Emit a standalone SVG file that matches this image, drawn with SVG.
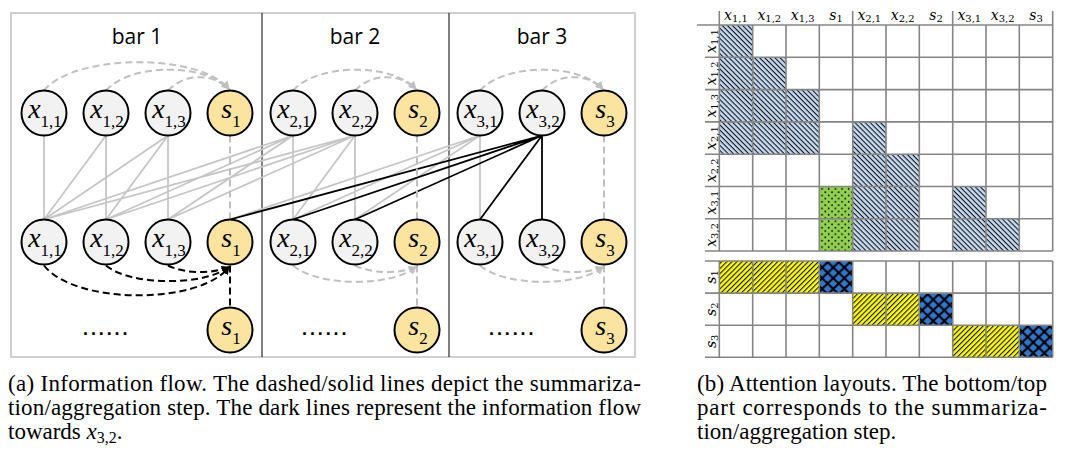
<svg xmlns="http://www.w3.org/2000/svg" width="1068" height="462" viewBox="0 0 1068 462">
<style>
.frame{fill:none;stroke:#c0c0c0;stroke-width:1.5}
.div{stroke:#000;stroke-width:1}
.bar{font-family:"Open Sans","Liberation Sans",sans-serif;font-size:21px;fill:#000;text-anchor:middle}
.nx{fill:#f2f2f2;stroke:#000;stroke-width:2}
.ns{fill:#fbe4a0;stroke:#000;stroke-width:2}
.lbl{font-size:28px;text-anchor:middle;fill:#000}
.v{font-style:italic}
.lbl .sub{font-size:17px}
.g{stroke:#c6c6c6;stroke-width:1.8;fill:none}
.k{stroke:#000;stroke-width:1.8;fill:none}
.gd{stroke:#c0c0c0;stroke-width:2;fill:none;stroke-dasharray:7 4}
.kd{stroke:#000;stroke-width:2;fill:none;stroke-dasharray:7 4}
.dots{font-family:"Liberation Sans",sans-serif;font-weight:bold;font-size:18px;letter-spacing:2.9px;fill:#000}
.grid{stroke:#858585;stroke-width:1.6;fill:none}
.ml{font-family:"DejaVu Serif",serif;font-size:14px;fill:#000;text-anchor:middle}
.ml .sub{font-size:10px}
.cap{font-size:23px;fill:#000}
</style>
<defs>
<marker id="ag" viewBox="0 0 10 10" refX="9" refY="5" markerWidth="4" markerHeight="4" orient="auto"><path d="M0,0 L10,5 L0,10 z" fill="#c0c0c0"/></marker>
<marker id="ak" viewBox="0 0 10 10" refX="9" refY="5" markerWidth="4" markerHeight="4" orient="auto"><path d="M0,0 L10,5 L0,10 z" fill="#000"/></marker>
<pattern id="pBlue" patternUnits="userSpaceOnUse" width="3.6" height="3.6" patternTransform="rotate(45)">
<rect width="3.6" height="3.6" fill="#c5d9f1"/>
<rect y="0" width="3.6" height="1.05" fill="#111"/>
</pattern>
<pattern id="pYel" patternUnits="userSpaceOnUse" width="3.6" height="3.6" patternTransform="rotate(-45)">
<rect width="3.6" height="3.6" fill="#ffff00"/>
<rect y="0" width="3.6" height="1.1" fill="#111"/>
</pattern>
<pattern id="pGreen" patternUnits="userSpaceOnUse" width="6.67" height="6.46">
<rect width="6.67" height="6.46" fill="#92d050"/>
<circle cx="1.6" cy="1.6" r="0.9" fill="#000"/>
<circle cx="4.93" cy="4.83" r="0.9" fill="#000"/>
</pattern>
<pattern id="pCross" patternUnits="userSpaceOnUse" width="11.11" height="10.7">
<rect width="11.11" height="10.7" fill="#2f76cc"/>
<path d="M0,0 L11.11,10.7 M11.11,0 L0,10.7" stroke="#000" stroke-width="2"/>
</pattern>
</defs>

<g id="frame">
<rect class="frame" x="11" y="13" width="624" height="344"/>
<line class="div" x1="262" y1="13" x2="262" y2="357"/>
<line class="div" x1="449" y1="13" x2="449" y2="357"/>
<text class="bar" x="137" y="44">bar 1</text>
<text class="bar" x="355" y="44">bar 2</text>
<text class="bar" x="542" y="44">bar 3</text>
</g>

<g id="connectors">
<path class="g" d="M44,135.5 L44,219.5 M106,135.5 L44,219.5 M106,135.5 L106,219.5 M168,135.5 L44,219.5 M168,135.5 L106,219.5 M168,135.5 L168,219.5 M293,135.5 L44,219.5 M293,135.5 L106,219.5 M293,135.5 L168,219.5 M293,135.5 L293,219.5 M355,135.5 L44,219.5 M355,135.5 L106,219.5 M355,135.5 L168,219.5 M355,135.5 L293,219.5 M355,135.5 L355,219.5 M480,135.5 L230,219.5 M480,135.5 L293,219.5 M480,135.5 L355,219.5 M480,135.5 L480,219.5"/>
<path class="k" d="M542,135.5 L230,219.5 M542,135.5 L293,219.5 M542,135.5 L355,219.5 M542,135.5 L480,219.5 M542,135.5 L542,219.5"/>
<path class="gd" d="M230,135.5 L230,219.5 M417,135.5 L417,219.5 M604,135.5 L604,219.5 M417,265.5 L417,307.5 M604,265.5 L604,307.5"/>
<path class="kd" d="M230,265.5 L230,307.5"/>
<path class="gd" marker-end="url(#ag)" d="M44,90.5 C75,53 200,53 229,89"/>
<path class="gd" marker-end="url(#ag)" d="M106,90.5 C130,63 205,63 229,89"/>
<path class="gd" marker-end="url(#ag)" d="M168,90.5 C185,73 212,73 229,89"/>
<path class="gd" marker-end="url(#ag)" d="M293,90.5 C318,63 392,63 416,89"/>
<path class="gd" marker-end="url(#ag)" d="M355,90.5 C372,73 399,73 416,89"/>
<path class="gd" marker-end="url(#ag)" d="M480,90.5 C505,63 579,63 603,89"/>
<path class="gd" marker-end="url(#ag)" d="M542,90.5 C559,73 586,73 603,89"/>
<path class="kd" marker-end="url(#ak)" d="M44,265.5 C75,305 200,305 229,267"/>
<path class="kd" marker-end="url(#ak)" d="M106,265.5 C130,286 205,286 229,267"/>
<path class="kd" marker-end="url(#ak)" d="M168,265.5 C185,274 212,274 229,267"/>
<path class="gd" marker-end="url(#ag)" d="M293,265.5 C318,287 392,287 416,267"/>
<path class="gd" marker-end="url(#ag)" d="M355,265.5 C372,274 399,274 416,267"/>
<path class="gd" marker-end="url(#ag)" d="M480,265.5 C505,287 579,287 603,267"/>
<path class="gd" marker-end="url(#ag)" d="M542,265.5 C559,274 586,274 603,267"/>
</g>

<g font-family="'Liberation Serif', 'Times New Roman', Times, serif">
<g id="t-x11"><circle class="nx" cx="44" cy="113" r="22.5"/><text class="lbl" x="45" y="118"><tspan class="v">x</tspan><tspan class="sub" dy="9">1,1</tspan></text></g>
<g id="t-x12"><circle class="nx" cx="106" cy="113" r="22.5"/><text class="lbl" x="107" y="118"><tspan class="v">x</tspan><tspan class="sub" dy="9">1,2</tspan></text></g>
<g id="t-x13"><circle class="nx" cx="168" cy="113" r="22.5"/><text class="lbl" x="169" y="118"><tspan class="v">x</tspan><tspan class="sub" dy="9">1,3</tspan></text></g>
<g id="t-s1"><circle class="ns" cx="230" cy="113" r="22.5"/><text class="lbl" x="231" y="118"><tspan class="v">s</tspan><tspan class="sub" dy="9">1</tspan></text></g>
<g id="t-x21"><circle class="nx" cx="293" cy="113" r="22.5"/><text class="lbl" x="294" y="118"><tspan class="v">x</tspan><tspan class="sub" dy="9">2,1</tspan></text></g>
<g id="t-x22"><circle class="nx" cx="355" cy="113" r="22.5"/><text class="lbl" x="356" y="118"><tspan class="v">x</tspan><tspan class="sub" dy="9">2,2</tspan></text></g>
<g id="t-s2"><circle class="ns" cx="417" cy="113" r="22.5"/><text class="lbl" x="418" y="118"><tspan class="v">s</tspan><tspan class="sub" dy="9">2</tspan></text></g>
<g id="t-x31"><circle class="nx" cx="480" cy="113" r="22.5"/><text class="lbl" x="481" y="118"><tspan class="v">x</tspan><tspan class="sub" dy="9">3,1</tspan></text></g>
<g id="t-x32"><circle class="nx" cx="542" cy="113" r="22.5"/><text class="lbl" x="543" y="118"><tspan class="v">x</tspan><tspan class="sub" dy="9">3,2</tspan></text></g>
<g id="t-s3"><circle class="ns" cx="604" cy="113" r="22.5"/><text class="lbl" x="605" y="118"><tspan class="v">s</tspan><tspan class="sub" dy="9">3</tspan></text></g>

<g id="m-x11"><circle class="nx" cx="44" cy="242" r="22.5"/><text class="lbl" x="45" y="247"><tspan class="v">x</tspan><tspan class="sub" dy="9">1,1</tspan></text></g>
<g id="m-x12"><circle class="nx" cx="106" cy="242" r="22.5"/><text class="lbl" x="107" y="247"><tspan class="v">x</tspan><tspan class="sub" dy="9">1,2</tspan></text></g>
<g id="m-x13"><circle class="nx" cx="168" cy="242" r="22.5"/><text class="lbl" x="169" y="247"><tspan class="v">x</tspan><tspan class="sub" dy="9">1,3</tspan></text></g>
<g id="m-s1"><circle class="ns" cx="230" cy="242" r="22.5"/><text class="lbl" x="231" y="247"><tspan class="v">s</tspan><tspan class="sub" dy="9">1</tspan></text></g>
<g id="m-x21"><circle class="nx" cx="293" cy="242" r="22.5"/><text class="lbl" x="294" y="247"><tspan class="v">x</tspan><tspan class="sub" dy="9">2,1</tspan></text></g>
<g id="m-x22"><circle class="nx" cx="355" cy="242" r="22.5"/><text class="lbl" x="356" y="247"><tspan class="v">x</tspan><tspan class="sub" dy="9">2,2</tspan></text></g>
<g id="m-s2"><circle class="ns" cx="417" cy="242" r="22.5"/><text class="lbl" x="418" y="247"><tspan class="v">s</tspan><tspan class="sub" dy="9">2</tspan></text></g>
<g id="m-x31"><circle class="nx" cx="480" cy="242" r="22.5"/><text class="lbl" x="481" y="247"><tspan class="v">x</tspan><tspan class="sub" dy="9">3,1</tspan></text></g>
<g id="m-x32"><circle class="nx" cx="542" cy="242" r="22.5"/><text class="lbl" x="543" y="247"><tspan class="v">x</tspan><tspan class="sub" dy="9">3,2</tspan></text></g>
<g id="m-s3"><circle class="ns" cx="604" cy="242" r="22.5"/><text class="lbl" x="605" y="247"><tspan class="v">s</tspan><tspan class="sub" dy="9">3</tspan></text></g>

<g id="b-dots1"><text class="dots" x="83" y="335">......</text></g>
<g id="b-s1"><circle class="ns" cx="230" cy="330" r="22.5"/><text class="lbl" x="231" y="335"><tspan class="v">s</tspan><tspan class="sub" dy="9">1</tspan></text></g>
<g id="b-dots2"><text class="dots" x="302" y="335">......</text></g>
<g id="b-s2"><circle class="ns" cx="417" cy="330" r="22.5"/><text class="lbl" x="418" y="335"><tspan class="v">s</tspan><tspan class="sub" dy="9">2</tspan></text></g>
<g id="b-dots3"><text class="dots" x="489" y="335">......</text></g>
<g id="b-s3"><circle class="ns" cx="604" cy="330" r="22.5"/><text class="lbl" x="605" y="335"><tspan class="v">s</tspan><tspan class="sub" dy="9">3</tspan></text></g>
</g>

<g id="matrix-cells">
<rect fill="url(#pBlue)" x="719.3" y="25" width="33.4" height="129.2"/>
<rect fill="url(#pBlue)" x="752.7" y="57.3" width="33.3" height="96.9"/>
<rect fill="url(#pBlue)" x="786" y="89.6" width="33.3" height="64.6"/>
<rect fill="url(#pBlue)" x="852.7" y="121.9" width="33.3" height="129.1"/>
<rect fill="url(#pBlue)" x="886" y="154.2" width="33.3" height="96.8"/>
<rect fill="url(#pBlue)" x="952.7" y="186.5" width="33.3" height="64.5"/>
<rect fill="url(#pBlue)" x="986" y="218.7" width="33.3" height="32.3"/>
<rect fill="url(#pGreen)" x="819.3" y="186.5" width="33.4" height="64.5"/>
<rect fill="url(#pYel)" x="719.3" y="261" width="100" height="32.1"/>
<rect fill="url(#pCross)" x="819.3" y="261" width="33.4" height="32.1"/>
<rect fill="url(#pYel)" x="852.7" y="293.1" width="66.6" height="32.1"/>
<rect fill="url(#pCross)" x="919.3" y="293.1" width="33.4" height="32.1"/>
<rect fill="url(#pYel)" x="952.7" y="325.2" width="66.6" height="32.1"/>
<rect fill="url(#pCross)" x="1019.3" y="325.2" width="33.4" height="32.1"/>
</g>
<g id="matrix-grid">
<path class="grid" d="M697,25 H1052.7 M705,57.3 H1052.7 M705,89.6 H1052.7 M705,121.9 H1052.7 M705,154.2 H1052.7 M705,186.5 H1052.7 M705,218.7 H1052.7 M705,251 H1052.7"/>
<path class="grid" d="M719.3,11 V251 M752.7,25 V251 M786,25 V251 M819.3,25 V251 M852.7,11 V251 M886,25 V251 M919.3,25 V251 M952.7,11 V251 M986,25 V251 M1019.3,25 V251 M1052.7,11 V251"/>
<path class="grid" d="M705,261 H1052.7 M705,293.1 H1052.7 M705,325.2 H1052.7 M705,357.3 H1052.7"/>
<path class="grid" d="M719.3,261 V357.3 M752.7,261 V357.3 M786,261 V357.3 M819.3,261 V357.3 M852.7,261 V357.3 M886,261 V357.3 M919.3,261 V357.3 M952.7,261 V357.3 M986,261 V357.3 M1019.3,261 V357.3 M1052.7,261 V357.3"/>
</g>
<g id="matrix-col-labels">
<text class="ml" x="736" y="20"><tspan class="v">x</tspan><tspan class="sub" dy="2">1,1</tspan></text>
<text class="ml" x="769.3" y="20"><tspan class="v">x</tspan><tspan class="sub" dy="2">1,2</tspan></text>
<text class="ml" x="802.7" y="20"><tspan class="v">x</tspan><tspan class="sub" dy="2">1,3</tspan></text>
<text class="ml" x="836" y="20"><tspan class="v">s</tspan><tspan class="sub" dy="2">1</tspan></text>
<text class="ml" x="869.3" y="20"><tspan class="v">x</tspan><tspan class="sub" dy="2">2,1</tspan></text>
<text class="ml" x="902.7" y="20"><tspan class="v">x</tspan><tspan class="sub" dy="2">2,2</tspan></text>
<text class="ml" x="936" y="20"><tspan class="v">s</tspan><tspan class="sub" dy="2">2</tspan></text>
<text class="ml" x="969.3" y="20"><tspan class="v">x</tspan><tspan class="sub" dy="2">3,1</tspan></text>
<text class="ml" x="1002.7" y="20"><tspan class="v">x</tspan><tspan class="sub" dy="2">3,2</tspan></text>
<text class="ml" x="1036" y="20"><tspan class="v">s</tspan><tspan class="sub" dy="2">3</tspan></text>
</g>
<g id="matrix-row-labels">
<text class="ml" transform="translate(716,41.1) rotate(-90)"><tspan class="v">x</tspan><tspan class="sub" dy="2">1,1</tspan></text>
<text class="ml" transform="translate(716,73.4) rotate(-90)"><tspan class="v">x</tspan><tspan class="sub" dy="2">1,2</tspan></text>
<text class="ml" transform="translate(716,105.7) rotate(-90)"><tspan class="v">x</tspan><tspan class="sub" dy="2">1,3</tspan></text>
<text class="ml" transform="translate(716,138) rotate(-90)"><tspan class="v">x</tspan><tspan class="sub" dy="2">2,1</tspan></text>
<text class="ml" transform="translate(716,170.3) rotate(-90)"><tspan class="v">x</tspan><tspan class="sub" dy="2">2,2</tspan></text>
<text class="ml" transform="translate(716,202.6) rotate(-90)"><tspan class="v">x</tspan><tspan class="sub" dy="2">3,1</tspan></text>
<text class="ml" transform="translate(716,234.9) rotate(-90)"><tspan class="v">x</tspan><tspan class="sub" dy="2">3,2</tspan></text>
<text class="ml" transform="translate(716,277) rotate(-90)"><tspan class="v">s</tspan><tspan class="sub" dy="2">1</tspan></text>
<text class="ml" transform="translate(716,309.2) rotate(-90)"><tspan class="v">s</tspan><tspan class="sub" dy="2">2</tspan></text>
<text class="ml" transform="translate(716,341.3) rotate(-90)"><tspan class="v">s</tspan><tspan class="sub" dy="2">3</tspan></text>
</g>

<g font-family="'Liberation Serif', 'Times New Roman', Times, serif">
<g id="caption-a">
<text class="cap" x="8" y="391" textLength="633" lengthAdjust="spacing">(a) Information flow. The dashed/solid lines depict the summariza-</text>
<text class="cap" x="8" y="415" textLength="633" lengthAdjust="spacing">tion/aggregation step. The dark lines represent the information flow</text>
<text class="cap" x="8" y="439">towards <tspan class="v">x</tspan><tspan font-size="16" dy="4">3,2</tspan><tspan dy="-4">.</tspan></text>
</g>
<g id="caption-b">
<text class="cap" x="697" y="391" textLength="350" lengthAdjust="spacing">(b) Attention layouts. The bottom/top</text>
<text class="cap" x="697" y="415" textLength="350" lengthAdjust="spacing">part corresponds to the summariza-</text>
<text class="cap" x="697" y="439">tion/aggregation step.</text>
</g>
</g>
</svg>
